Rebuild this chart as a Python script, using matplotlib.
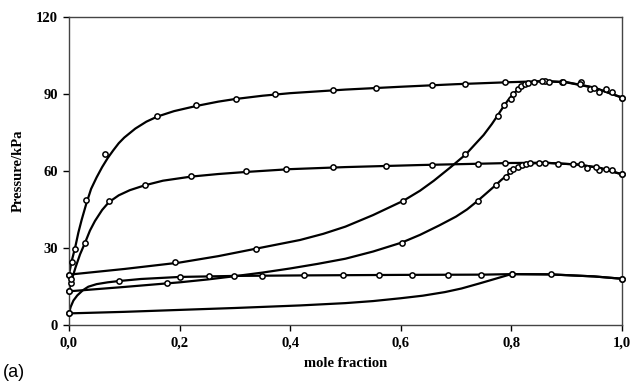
import matplotlib
matplotlib.use("Agg")
import matplotlib.pyplot as plt
from matplotlib.ticker import FuncFormatter

# fitted curves, three isotherms: bubble (P-x) and dew (P-y)
t1_bub_x = [0, 0.1, 0.2, 0.27, 0.338, 0.418, 0.46, 0.5, 0.55, 0.605, 0.635, 0.66, 0.69, 0.718, 0.735, 0.75, 0.765,
            0.775, 0.785, 0.795, 0.805, 0.815, 0.83, 0.845, 0.86, 0.9, 0.95, 1.0]
t1_bub_p = [19.6, 21.8, 24.3, 26.8, 29.7, 33.1, 35.5, 38.3, 42.8, 48.4, 52.3, 56.2, 61.4, 66.5, 70.5, 74.0, 78.3,
            81.5, 84.8, 87.8, 90.3, 92.2, 94.0, 94.8, 95.0, 94.6, 92.5, 88.6]
t1_dew_x = [0, 0.005, 0.011, 0.017, 0.023, 0.031, 0.04, 0.05, 0.06, 0.07, 0.08, 0.09, 0.1, 0.12, 0.14, 0.16, 0.19,
            0.23, 0.27, 0.3, 0.35, 0.4, 0.5, 0.6, 0.7, 0.8, 0.86, 0.9, 0.95, 1.0]
t1_dew_p = [19.6, 25.0, 30.0, 36.0, 41.0, 47.0, 53.0, 57.5, 61.5, 65.0, 68.0, 70.8, 73.0, 76.5, 79.2, 81.2, 83.3,
            85.3, 87.0, 88.0, 89.3, 90.3, 91.7, 92.8, 93.8, 94.6, 95.0, 94.5, 92.4, 88.6]

t2_bub_x = [0, 0.1, 0.2, 0.25, 0.3, 0.35, 0.4, 0.45, 0.5, 0.55, 0.602, 0.635, 0.67, 0.7, 0.72, 0.739, 0.755, 0.772,
            0.782, 0.79, 0.8, 0.81, 0.82, 0.835, 0.86, 0.92, 0.96, 1.0]
t2_bub_p = [13.1, 14.8, 16.6, 17.7, 19.0, 20.4, 22.0, 23.8, 25.8, 28.6, 32.1, 35.1, 38.8, 42.2, 45.0, 48.3, 51.3, 54.5,
            56.5, 57.9, 59.7, 61.0, 62.0, 62.9, 63.2, 62.5, 61.2, 58.7]
t2_dew_x = [0, 0.003, 0.007, 0.012, 0.02, 0.029, 0.038, 0.047, 0.06, 0.072, 0.09, 0.11, 0.137, 0.17, 0.221, 0.27,
            0.32, 0.4, 0.5, 0.635, 0.74, 0.8, 0.86, 0.92, 0.96, 1.0]
t2_dew_p = [13.1, 16.2, 19.0, 22.5, 27.5, 32.0, 36.8, 40.5, 44.8, 47.8, 50.5, 52.5, 54.4, 56.2, 57.8, 58.8,
            59.6, 60.7, 61.5, 62.3, 62.8, 63.1, 63.2, 62.5, 61.2, 58.7]

t3_bub_x = [0, 0.1, 0.219, 0.3, 0.418, 0.5, 0.55, 0.6, 0.64, 0.68, 0.71, 0.743, 0.77, 0.8, 0.87, 0.95, 1.0]
t3_bub_p = [4.5, 5.1, 6.0, 6.6, 7.6, 8.5, 9.3, 10.4, 11.4, 12.8, 14.2, 16.2, 17.9, 19.8, 19.7, 18.9, 18.0]
t3_dew_x = [0, 0.003, 0.008, 0.015, 0.025, 0.035, 0.05, 0.07, 0.09, 0.13, 0.2, 0.3, 0.425, 0.6, 0.75, 0.8, 0.87,
            0.95, 1.0]
t3_dew_p = [4.5, 7.0, 9.5, 11.5, 13.5, 14.9, 15.9, 16.6, 17.1, 17.9, 18.7, 19.1, 19.3, 19.5, 19.6, 19.8, 19.7,
            18.9, 18.0]

# experimental points
t1_bub_ex = [0, 0.192, 0.338, 0.605, 0.717, 0.776, 0.787, 0.799, 0.804, 0.813, 0.818, 0.825, 0.831, 0.841, 0.861,
             0.868, 0.891, 0.926, 0.942, 0.959, 0.983, 1.0]
t1_bub_ep = [19.6, 24.5, 29.7, 48.4, 66.6, 81.5, 85.7, 88.2, 89.9, 91.8, 92.9, 93.9, 94.1, 94.7, 94.9,
             94.8, 94.8, 94.5, 92.1, 90.8, 90.9, 88.6]
t1_dew_ex = [0, 0.005, 0.011, 0.031, 0.066, 0.159, 0.230, 0.303, 0.373, 0.477, 0.556, 0.656, 0.716, 0.789, 0.855,
             0.893, 0.924, 0.95, 0.971, 1.0]
t1_dew_ep = [19.6, 24.7, 29.7, 48.6, 66.5, 81.5, 85.7, 88.2, 89.9, 91.5, 92.3, 93.5, 93.9, 94.7, 95.0,
             94.6, 93.8, 92.2, 91.8, 88.6]

t2_bub_ex = [0, 0.177, 0.602, 0.739, 0.772, 0.790, 0.797, 0.804, 0.813, 0.820, 0.827, 0.834, 0.851, 0.885, 0.937,
             0.959, 0.982, 1.0]
t2_bub_ep = [13.1, 16.2, 32.1, 48.4, 54.5, 57.8, 59.8, 60.6, 61.7, 62.3, 62.8, 63.0, 63.2, 62.8, 61.0,
             60.4, 60.3, 58.7]
t2_dew_ex = [0, 0.003, 0.004, 0.029, 0.072, 0.137, 0.221, 0.321, 0.393, 0.477, 0.574, 0.656, 0.740, 0.789, 0.861,
             0.912, 0.926, 0.954, 0.971, 1.0]
t2_dew_ep = [13.1, 16.2, 18.0, 32.1, 48.4, 54.6, 57.9, 59.8, 60.6, 61.4, 62.1, 62.5, 62.8, 63.0, 63.2,
             62.7, 62.6, 61.7, 60.9, 58.7]

t3_bub_ex = [0, 0.801, 1.0]
t3_bub_ep = [4.5, 19.8, 18.0]
t3_dew_ex = [0, 0.091, 0.200, 0.254, 0.298, 0.350, 0.425, 0.495, 0.561, 0.621, 0.685, 0.746, 0.801, 0.872, 1.0]
t3_dew_ep = [4.5, 17.1, 18.7, 19.0, 19.1, 19.2, 19.3, 19.5, 19.5, 19.6, 19.6, 19.6, 19.8, 19.7, 18.0]

x_ticks = [0, 0.2, 0.4, 0.6, 0.8, 1.0]
y_ticks = [0, 30, 60, 90, 120]


def main():
    fig = plt.figure(figsize=(6.34, 3.85), dpi=100)
    ax = fig.add_axes([0.1088, 0.156, 0.872, 0.80])

    curves = [(t1_bub_x, t1_bub_p), (t1_dew_x, t1_dew_p),
              (t2_bub_x, t2_bub_p), (t2_dew_x, t2_dew_p),
              (t3_bub_x, t3_bub_p), (t3_dew_x, t3_dew_p)]
    for cx, cp in curves:
        ax.plot(cx, cp, color='black', lw=1.6, zorder=2, solid_joinstyle='round')

    points = [(t1_bub_ex, t1_bub_ep), (t1_dew_ex, t1_dew_ep),
              (t2_bub_ex, t2_bub_ep), (t2_dew_ex, t2_dew_ep),
              (t3_bub_ex, t3_bub_ep), (t3_dew_ex, t3_dew_ep)]
    for px, pp in points:
        ax.plot(px, pp, 'o', ms=3.8, mfc='white', mec='black', mew=1.1,
                zorder=3, clip_on=False)

    ax.set_xlim(0, 1.0)
    ax.set_ylim(0, 120)
    ax.set_xticks(x_ticks)
    ax.set_yticks(y_ticks)
    ax.xaxis.set_major_formatter(FuncFormatter(lambda v, p: f"{v:.1f}".replace('.', ',')))
    ax.tick_params(direction='out', length=4, width=1, pad=4)
    for lab in ax.get_xticklabels() + ax.get_yticklabels():
        lab.set_fontfamily('Liberation Serif')
        lab.set_fontweight('bold')
        lab.set_fontsize(10.5)
    for sp in ax.spines.values():
        sp.set_linewidth(1.0)
        sp.set_color('#444444')

    ax.set_xlabel('mole fraction', family='Liberation Serif', weight='bold', fontsize=10.5, labelpad=6)
    ax.set_ylabel('Pressure/kPa', family='Liberation Serif', weight='bold', fontsize=10.5, labelpad=8)
    fig.text(0.004, 0.022, '(a)', family='Liberation Sans', fontsize=13)

    fig.savefig('out.png', dpi=100)
    plt.close(fig)


if __name__ == "__main__":
    main()
